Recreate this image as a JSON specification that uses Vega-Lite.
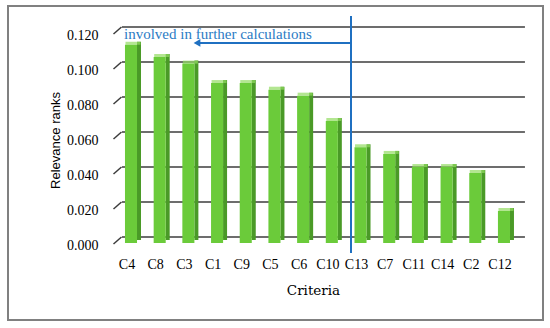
{
  "$schema": "https://vega.github.io/schema/vega-lite/v6.json",
  "width": 535,
  "height": 314,
  "autosize": "none",
  "padding": {"left": 8, "top": 6, "right": 7, "bottom": 8},
  "background": "white",
  "config": {"view": {"stroke": "#808080", "strokeWidth": 2}},
  "datasets": {
    "ranks": [
      {"criterion": "C4", "rank": 0.1133},
      {"criterion": "C8", "rank": 0.1063},
      {"criterion": "C3", "rank": 0.1025},
      {"criterion": "C1", "rank": 0.0914},
      {"criterion": "C9", "rank": 0.0914},
      {"criterion": "C5", "rank": 0.0876},
      {"criterion": "C6", "rank": 0.0842},
      {"criterion": "C10", "rank": 0.0697},
      {"criterion": "C13", "rank": 0.0547},
      {"criterion": "C7", "rank": 0.0509},
      {"criterion": "C11", "rank": 0.0434},
      {"criterion": "C14", "rank": 0.0434},
      {"criterion": "C2", "rank": 0.04},
      {"criterion": "C12", "rank": 0.0183}
    ],
    "grid": [
      {"g": 0}, {"g": 0.02}, {"g": 0.04}, {"g": 0.06}, {"g": 0.08}, {"g": 0.1}, {"g": 0.12}
    ]
  },
  "layer": [
    {
      "data": {"name": "grid"},
      "layer": [
        {
          "mark": {"type": "rule", "color": "#3c3c3c", "strokeWidth": 1.5},
          "encoding": {
            "x": {"datum": -0.174, "type": "quantitative", "scale": {"domain": [-4.1478, 14.4998], "nice": false, "zero": false}, "axis": null},
            "x2": {"datum": 13.87},
            "y": {"field": "g", "type": "quantitative", "scale": {"domain": [-0.04743, 0.132], "nice": false, "zero": false}, "axis": {"orient": "left", "offset": -90, "values": [0, 0.02, 0.04, 0.06, 0.08, 0.1, 0.12], "format": ".3f", "grid": false, "domain": false, "ticks": false, "tickSize": 0, "labelPadding": 0, "labelOffset": 9, "labelFont": "Liberation Serif", "labelFontSize": 14, "labelColor": "#000000", "title": "Relevance ranks", "titleFont": "Liberation Sans", "titleFontSize": 13, "titleFontWeight": "normal", "titleColor": "#000000", "titleX": -43, "titleY": 134, "titleAlign": "center", "titleBaseline": "middle"}}
          }
        },
        {
          "mark": {"type": "point", "shape": "M-1,0.875L1,-0.875", "filled": false, "stroke": "#3c3c3c", "strokeWidth": 1.5, "size": 64, "opacity": 1, "yOffset": 3.5},
          "encoding": {
            "x": {"datum": -0.331, "type": "quantitative", "scale": {"domain": [-4.1478, 14.4998], "nice": false, "zero": false}, "axis": null},
            "y": {"field": "g", "type": "quantitative", "scale": {"domain": [-0.04743, 0.132], "nice": false, "zero": false}, "axis": {"orient": "left", "offset": -90, "values": [0, 0.02, 0.04, 0.06, 0.08, 0.1, 0.12], "format": ".3f", "grid": false, "domain": false, "ticks": false, "tickSize": 0, "labelPadding": 0, "labelOffset": 9, "labelFont": "Liberation Serif", "labelFontSize": 14, "labelColor": "#000000", "title": "Relevance ranks", "titleFont": "Liberation Sans", "titleFontSize": 13, "titleFontWeight": "normal", "titleColor": "#000000", "titleX": -43, "titleY": 134, "titleAlign": "center", "titleBaseline": "middle"}}
          }
        }
      ]
    },
    {
      "data": {"name": "ranks"},
      "encoding": {
        "x": {
          "field": "criterion",
          "type": "nominal",
          "sort": null,
          "scale": {"range": [104.655, 506.31], "paddingInner": 0.58, "paddingOuter": 0.29},
          "axis": {
            "orient": "bottom",
            "offset": -63,
            "domain": false,
            "ticks": false,
            "tickSize": 0,
            "labelPadding": 0,
            "labelAngle": 0,
            "labelFont": "Liberation Serif",
            "labelFontSize": 14,
            "labelColor": "#000000",
            "title": "Criteria",
            "titleFont": "DejaVu Serif",
            "titleFontSize": 13.5,
            "titleFontWeight": "normal",
            "titleColor": "#000000",
            "titleX": 305,
            "titleY": 33,
            "titleAlign": "center",
            "titleBaseline": "middle"
          }
        },
        "y": {
          "field": "rank",
          "type": "quantitative",
          "scale": {"domain": [-0.04743, 0.132], "nice": false, "zero": false},
          "axis": {"orient": "left", "offset": -90, "values": [0, 0.02, 0.04, 0.06, 0.08, 0.1, 0.12], "format": ".3f", "grid": false, "domain": false, "ticks": false, "tickSize": 0, "labelPadding": 0, "labelOffset": 9, "labelFont": "Liberation Serif", "labelFontSize": 14, "labelColor": "#000000", "title": "Relevance ranks", "titleFont": "Liberation Sans", "titleFontSize": 13, "titleFontWeight": "normal", "titleColor": "#000000", "titleX": -43, "titleY": 134, "titleAlign": "center", "titleBaseline": "middle"}
        }
      },
      "layer": [
        {
          "mark": {"type": "bar", "color": "#4a9a27", "width": 4, "xOffset": 12, "yOffset": 3, "y2Offset": 3},
          "encoding": {"y2": {"datum": 0}}
        },
        {
          "mark": {"type": "tick", "color": "#93dc63", "size": 15, "thickness": 3, "xOffset": 6, "yOffset": 4.5, "orient": "horizontal"},
          "encoding": {}
        },
        {
          "mark": {"type": "bar", "color": "#6bcb3a", "xOffset": 4, "yOffset": 6, "y2Offset": 6},
          "encoding": {"y2": {"datum": 0}}
        }
      ]
    },
    {
      "data": {"values": [{}]},
      "layer": [
        {
          "mark": {"type": "rule", "color": "#1f70c1", "strokeWidth": 2},
          "encoding": {
            "x": {"datum": 7.807, "type": "quantitative", "scale": {"domain": [-4.1478, 14.4998], "nice": false, "zero": false}, "axis": null},
            "y": {"datum": 0.12629, "type": "quantitative", "scale": {"domain": [-0.04743, 0.132], "nice": false, "zero": false}, "axis": {"orient": "left", "offset": -90, "values": [0, 0.02, 0.04, 0.06, 0.08, 0.1, 0.12], "format": ".3f", "grid": false, "domain": false, "ticks": false, "tickSize": 0, "labelPadding": 0, "labelOffset": 9, "labelFont": "Liberation Serif", "labelFontSize": 14, "labelColor": "#000000", "title": "Relevance ranks", "titleFont": "Liberation Sans", "titleFontSize": 13, "titleFontWeight": "normal", "titleColor": "#000000", "titleX": -43, "titleY": 134, "titleAlign": "center", "titleBaseline": "middle"}},
            "y2": {"datum": -0.00914}
          }
        },
        {
          "mark": {"type": "rule", "color": "#1f70c1", "strokeWidth": 2},
          "encoding": {
            "x": {"datum": 7.807, "type": "quantitative", "scale": {"domain": [-4.1478, 14.4998], "nice": false, "zero": false}, "axis": null},
            "x2": {"datum": 2.5},
            "y": {"datum": 0.11086, "type": "quantitative", "scale": {"domain": [-0.04743, 0.132], "nice": false, "zero": false}, "axis": {"orient": "left", "offset": -90, "values": [0, 0.02, 0.04, 0.06, 0.08, 0.1, 0.12], "format": ".3f", "grid": false, "domain": false, "ticks": false, "tickSize": 0, "labelPadding": 0, "labelOffset": 9, "labelFont": "Liberation Serif", "labelFontSize": 14, "labelColor": "#000000", "title": "Relevance ranks", "titleFont": "Liberation Sans", "titleFontSize": 13, "titleFontWeight": "normal", "titleColor": "#000000", "titleX": -43, "titleY": 134, "titleAlign": "center", "titleBaseline": "middle"}}
          }
        },
        {
          "mark": {"type": "point", "shape": "triangle-left", "filled": true, "color": "#1f70c1", "size": 60, "opacity": 1},
          "encoding": {
            "x": {"datum": 2.44, "type": "quantitative", "scale": {"domain": [-4.1478, 14.4998], "nice": false, "zero": false}, "axis": null},
            "y": {"datum": 0.11086, "type": "quantitative", "scale": {"domain": [-0.04743, 0.132], "nice": false, "zero": false}, "axis": {"orient": "left", "offset": -90, "values": [0, 0.02, 0.04, 0.06, 0.08, 0.1, 0.12], "format": ".3f", "grid": false, "domain": false, "ticks": false, "tickSize": 0, "labelPadding": 0, "labelOffset": 9, "labelFont": "Liberation Serif", "labelFontSize": 14, "labelColor": "#000000", "title": "Relevance ranks", "titleFont": "Liberation Sans", "titleFontSize": 13, "titleFontWeight": "normal", "titleColor": "#000000", "titleX": -43, "titleY": 134, "titleAlign": "center", "titleBaseline": "middle"}}
          }
        },
        {
          "mark": {"type": "text", "text": "involved in further calculations", "color": "#2b7bc4", "font": "Liberation Serif", "fontSize": 15, "align": "left", "baseline": "alphabetic"},
          "encoding": {
            "x": {"datum": -0.105, "type": "quantitative", "scale": {"domain": [-4.1478, 14.4998], "nice": false, "zero": false}, "axis": null},
            "y": {"datum": 0.11314, "type": "quantitative", "scale": {"domain": [-0.04743, 0.132], "nice": false, "zero": false}, "axis": {"orient": "left", "offset": -90, "values": [0, 0.02, 0.04, 0.06, 0.08, 0.1, 0.12], "format": ".3f", "grid": false, "domain": false, "ticks": false, "tickSize": 0, "labelPadding": 0, "labelOffset": 9, "labelFont": "Liberation Serif", "labelFontSize": 14, "labelColor": "#000000", "title": "Relevance ranks", "titleFont": "Liberation Sans", "titleFontSize": 13, "titleFontWeight": "normal", "titleColor": "#000000", "titleX": -43, "titleY": 134, "titleAlign": "center", "titleBaseline": "middle"}}
          }
        }
      ]
    }
  ],
  "resolve": {"scale": {"x": "independent"}}
}
